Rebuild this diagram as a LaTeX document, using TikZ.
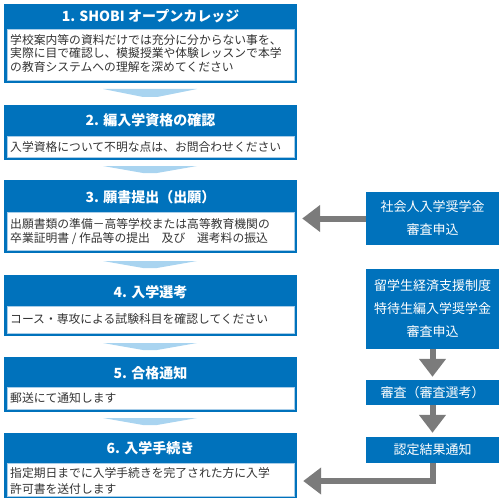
\documentclass[tikz,border=0pt]{standalone}
\usepackage{fontspec}
\setmainfont{Noto Sans CJK JP}
\usetikzlibrary{arrows.meta,calc}
\definecolor{cblue}{HTML}{0072BC}
\definecolor{cchev}{HTML}{A9D4F0}
\definecolor{cgrey}{HTML}{7B7B7B}
\definecolor{ctext}{HTML}{333333}
\definecolor{cinner}{HTML}{A8CDE8}
\begin{document}
\begin{tikzpicture}[x=1pt,y=-1pt,
  outerbox/.style={fill=cblue, draw=none, minimum width=293pt, inner sep=0pt},
  whitebox/.style={fill=white, draw=cinner, line width=0.6pt, minimum width=287pt, inner sep=0pt},
  ttl/.style={text=white, font=\fontsize{14}{16}\selectfont\bfseries, inner sep=0pt},
  body/.style={text=ctext, anchor=west, align=left, inner sep=0pt},
  rbox/.style={fill=cblue, draw=none, minimum width=133pt, inner sep=0pt, text=white, align=center, font=\fontsize{13}{23}\selectfont},
  chev/.style={fill=cchev},
  garrow/.style={draw=cgrey, line width=6pt, -{Triangle[length=18pt,width=26pt]}}
]
\useasboundingbox (0,0) rectangle (500,500);
% ---- Box 1
\node[outerbox, minimum height=79pt] (b1) at (150.5,43.5) {};
\node[ttl] (t1) at (150.5,16) {1. SHOBI オープンカレッジ};
\node[whitebox, minimum height=51pt] (w1) at (150.5,54.5) {};
\node[body, font=\fontsize{11.8}{13.5}\selectfont] (d1) at (10,53.5) {学校案内等の資料だけでは充分に分からない事を、\\実際に目で確認し、模擬授業や体験レッスンで本学\\の教育システムへの理解を深めてください};
\fill[chev] (103,89) -- (197,89) -- (157,97) -- (143,97) -- cycle;
% ---- Box 2
\node[outerbox, minimum height=55pt] (b2) at (150.5,132.5) {};
\node[ttl] (t2) at (150.5,120) {2. 編入学資格の確認};
\node[whitebox, minimum height=21pt] (w2) at (150.5,146.5) {};
\node[body, font=\fontsize{11.8}{13.5}\selectfont] (d2) at (10,147.5) {入学資格について不明な点は、お問合わせください};
\fill[chev] (103,166) -- (197,166) -- (157,173) -- (143,173) -- cycle;
% ---- Box 3
\node[outerbox, minimum height=73pt] (b3) at (150.5,216.5) {};
\node[ttl] (t3) at (150.5,197) {3. 願書提出（出願）};
\node[whitebox, minimum height=38pt] (w3) at (150.5,231) {};
\node[body, font=\fontsize{11.8}{13.5}\selectfont] (d3) at (10,231.5) {出願書類の準備－高等学校または高等教育機関の\\卒業証明書 / 作品等の提出　及び　選考料の振込};
\fill[chev] (103,261) -- (197,261) -- (157,268) -- (143,268) -- cycle;
% ---- Box 4
\node[outerbox, minimum height=61pt] (b4) at (150.5,305.5) {};
\node[ttl] (t4) at (150.5,292) {4. 入学選考};
\node[whitebox, minimum height=27pt] (w4) at (150.5,319.5) {};
\node[body, font=\fontsize{11.8}{13.5}\selectfont] (d4) at (10,319) {コース・専攻による試験科目を確認してください};
\fill[chev] (103,343) -- (197,343) -- (157,350) -- (143,350) -- cycle;
% ---- Box 5
\node[outerbox, minimum height=55pt] (b5) at (150.5,384.5) {};
\node[ttl] (t5) at (150.5,373) {5. 合格通知};
\node[whitebox, minimum height=22pt] (w5) at (150.5,398) {};
\node[body, font=\fontsize{11.8}{13.5}\selectfont] (d5) at (10,398) {郵送にて通知します};
\fill[chev] (103,418) -- (197,418) -- (157,425) -- (143,425) -- cycle;
% ---- Box 6
\node[outerbox, minimum height=65pt] (b6) at (150.5,465.5) {};
\node[ttl] (t6) at (150.5,448) {6. 入学手続き};
\node[whitebox, minimum height=33pt] (w6) at (150.5,479.5) {};
\node[body, font=\fontsize{11.8}{15.5}\selectfont] (d6) at (10,481) {指定期日までに入学手続きを完了された方に入学\\許可書を送付します};
% ---- Right column
\node[rbox, minimum height=53pt] (ra) at (432.5,218.5) {社会人入学奨学金\\審査申込};
\node[rbox, minimum height=80pt] (rb) at (432.5,309) {留学生経済支援制度\\特待生編入学奨学金\\審査申込};
\node[rbox, minimum height=25pt] (rc) at (432.5,392.5) {審査（審査選考）};
\node[rbox, minimum height=26pt] (rd) at (432.5,450) {認定結果通知};
\coordinate (e3) at ($(b3.east |- ra.west)+(5,0)$);
\coordinate (bend) at (432.5,481);
\coordinate (e6) at ($(b6.east |- bend)+(6,0)$);
% ---- Grey arrows
\draw[garrow] (ra.west) -- (e3);
\draw[garrow, shorten >=3pt] (rb.south) -- (rc.north);
\draw[garrow, shorten >=4pt] (rc.south) -- (rd.north);
\draw[garrow] (rd.south) -- (bend) -- (e6);
\end{tikzpicture}
\end{document}
